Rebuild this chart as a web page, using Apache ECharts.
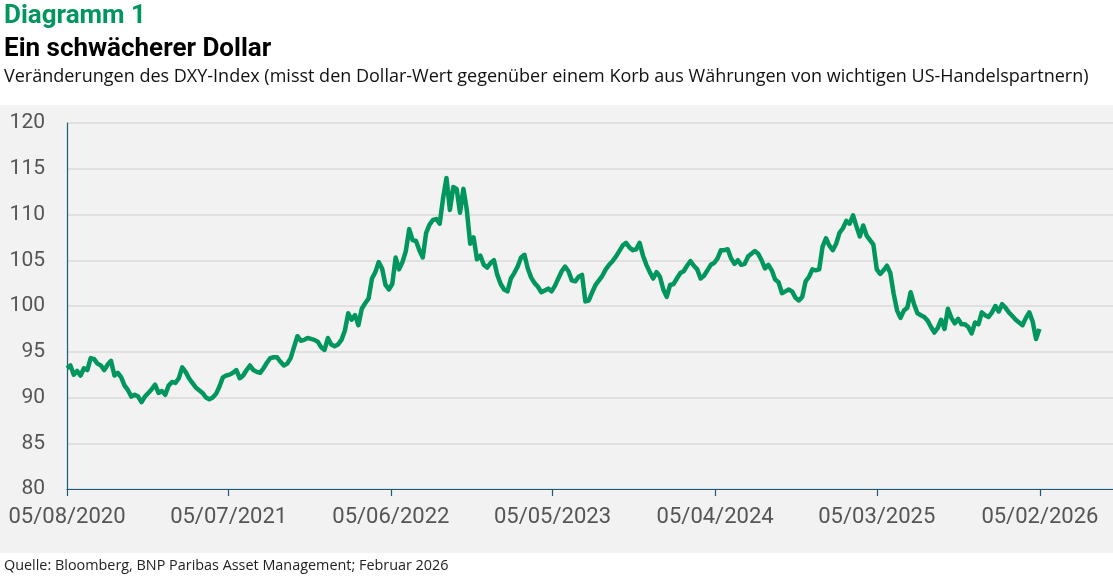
<!DOCTYPE html>
<html>
<head>
<meta charset="utf-8">
<script src="https://cdn.jsdelivr.net/npm/echarts@6/dist/echarts.min.js"></script>
<style>
  html, body { margin: 0; padding: 0; background: #fff; }
  #main { width: 1113px; height: 577px; }
</style>
</head>
<body>
<div id="main"></div>
<script>
// DXY-Index, woechentliche Werte ab 05/08/2020
var startDate = '2020-08-05';
var dxy = [
  93.2, 93.5, 92.5, 92.9, 92.4, 93.2, 93.0, 94.3, 94.2, 93.7,
  93.5, 93.0, 93.6, 94.0, 92.4, 92.7, 92.2, 91.3, 90.8, 90.1,
  90.3, 90.1, 89.5, 90.1, 90.5, 90.9, 91.4, 90.5, 90.7, 90.3,
  91.3, 91.7, 91.6, 92.1, 93.3, 92.8, 92.1, 91.6, 91.1, 90.8,
  90.5, 90.0, 89.8, 90.0, 90.4, 91.2, 92.2, 92.4, 92.5, 92.7,
  93.0, 92.1, 92.4, 93.0, 93.5, 93.0, 92.8, 92.7, 93.2, 93.8,
  94.3, 94.4, 94.4, 93.9, 93.5, 93.7, 94.3, 95.5, 96.7, 96.2,
  96.3, 96.5, 96.4, 96.3, 96.1, 95.5, 95.2, 96.5, 95.8, 95.6,
  95.8, 96.3, 97.3, 99.2, 98.5, 99.0, 97.9, 99.7, 100.3, 100.8,
  103.0, 103.7, 104.8, 104.1, 102.3, 101.8, 102.4, 105.3, 104.0, 104.8,
  106.0, 108.4, 107.2, 107.1, 106.1, 105.3, 108.0, 108.9, 109.4, 109.5,
  109.0, 111.8, 114.0, 110.5, 113.0, 112.8, 110.2, 112.8, 110.5, 106.8,
  107.5, 105.1, 105.5, 104.5, 104.2, 104.7, 105.0, 103.4, 102.4, 101.8,
  101.6, 103.0, 103.6, 104.3, 105.3, 105.6, 104.1, 103.1, 102.5, 102.1,
  101.5, 101.7, 101.9, 101.6, 102.2, 103.0, 103.8, 104.3, 103.8, 102.8,
  102.7, 103.2, 103.4, 100.5, 100.6, 101.5, 102.3, 102.8, 103.3, 104.0,
  104.5, 104.9, 105.4, 106.0, 106.6, 106.9, 106.4, 106.1, 106.2, 106.9,
  105.5, 104.5, 103.7, 103.0, 103.7, 103.2, 101.8, 101.0, 102.3, 102.4,
  103.0, 103.6, 103.8, 104.4, 104.9, 104.4, 104.0, 103.0, 103.3, 103.9,
  104.5, 104.7, 105.2, 106.1, 106.1, 106.2, 105.2, 104.6, 105.0, 104.5,
  104.6, 105.4, 105.7, 106.0, 105.7, 105.0, 104.1, 104.5, 103.9, 102.9,
  102.6, 101.4, 101.6, 101.8, 101.6, 100.9, 100.6, 101.0, 102.7, 103.2,
  104.0, 103.9, 104.0, 106.5, 107.4, 106.6, 106.1, 106.8, 108.0, 108.5,
  109.3, 109.0, 109.9, 108.7, 107.6, 108.8, 107.7, 107.2, 106.7, 104.0,
  103.5, 103.9, 104.4, 103.6, 101.3, 99.5, 98.7, 99.5, 99.8, 101.5,
  100.2, 99.2, 99.0, 98.8, 98.4, 97.7, 97.1, 97.6, 98.5, 97.5,
  99.7, 98.7, 98.1, 98.6, 98.0, 98.0, 97.7, 97.0, 98.2, 98.0,
  99.3, 99.0, 98.8, 99.3, 100.0, 99.4, 100.2, 99.8, 99.3, 98.9,
  98.5, 98.2, 97.9, 98.7, 99.3, 98.3, 96.4, 97.5
];
var tickDates = ['2020-08-05', '2021-07-05', '2022-06-05', '2023-05-05', '2024-04-05', '2025-03-05', '2026-02-05'];
var axisEnd = '2026-07-06';

var DAY = 86400000;
function parseDay(s) {
  var p = s.split('-');
  return Date.UTC(+p[0], +p[1] - 1, +p[2]);
}
function pad(n) { return n < 10 ? '0' + n : '' + n; }

var t0 = parseDay(startDate);
function dayOffset(s) { return Math.round((parseDay(s) - t0) / DAY); }

// x = Tage seit Startdatum
var seriesData = dxy.map(function (v, i) { return [i * 7, v]; });
var tickValues = tickDates.map(dayOffset);

var axisColor = '#1d5a7e';
var labelColor = '#555555';
var myChart = echarts.init(document.getElementById('main'));

var option = {
  backgroundColor: '#ffffff',
  animation: false,
  graphic: [
    { type: 'rect', z: -10, silent: true,
      shape: { x: 0, y: 105, width: 1113, height: 448 },
      style: { fill: '#f2f2f2' } },
    { type: 'text', left: 4, top: 3,
      style: { text: 'Diagramm 1', fill: '#00965e', font: 'bold 26px Roboto' } },
    { type: 'text', left: 4, top: 36,
      style: { text: 'Ein schwächerer Dollar', fill: '#000000', font: 'bold 26px Roboto' } },
    { type: 'text', left: 4, top: 68,
      style: { text: 'Veränderungen des DXY-Index (misst den Dollar-Wert gegenüber einem Korb aus Währungen von wichtigen US-Handelspartnern)', fill: '#111111', font: '18px "Open Sans"' } },
    { type: 'text', left: 4, top: 559,
      style: { text: 'Quelle: Bloomberg, BNP Paribas Asset Management; Februar 2026', fill: '#222222', font: '14.4px "Open Sans"' } }
  ],
  grid: { left: 67, right: 0, top: 123, bottom: 88 },
  xAxis: {
    type: 'value',
    min: 0,
    max: dayOffset(axisEnd),
    axisLine: { show: true, onZero: false, lineStyle: { color: axisColor, width: 1.2 } },
    axisTick: { show: true, length: 7, customValues: tickValues, lineStyle: { color: axisColor, width: 1.2 } },
    axisLabel: {
      customValues: tickValues,
      color: labelColor,
      fontFamily: 'Roboto',
      fontSize: 22,
      margin: 17,
      formatter: function (val) {
        var d = new Date(t0 + val * DAY);
        return pad(d.getUTCDate()) + '/' + pad(d.getUTCMonth() + 1) + '/' + d.getUTCFullYear();
      }
    },
    splitLine: { show: false }
  },
  yAxis: {
    type: 'value',
    min: 80,
    max: 120,
    interval: 5,
    axisLine: { show: true, lineStyle: { color: axisColor, width: 1.2 } },
    axisTick: { show: false },
    axisLabel: { color: labelColor, fontFamily: 'Roboto', fontSize: 21, margin: 22 },
    splitLine: { show: true, lineStyle: { color: '#dadada', width: 1.5 } }
  },
  series: [
    {
      name: 'DXY',
      type: 'line',
      data: seriesData,
      showSymbol: false,
      lineStyle: { color: '#00965e', width: 4.5, join: 'round' },
      itemStyle: { color: '#00965e' }
    }
  ]
};

myChart.setOption(option);
</script>
</body>
</html>
